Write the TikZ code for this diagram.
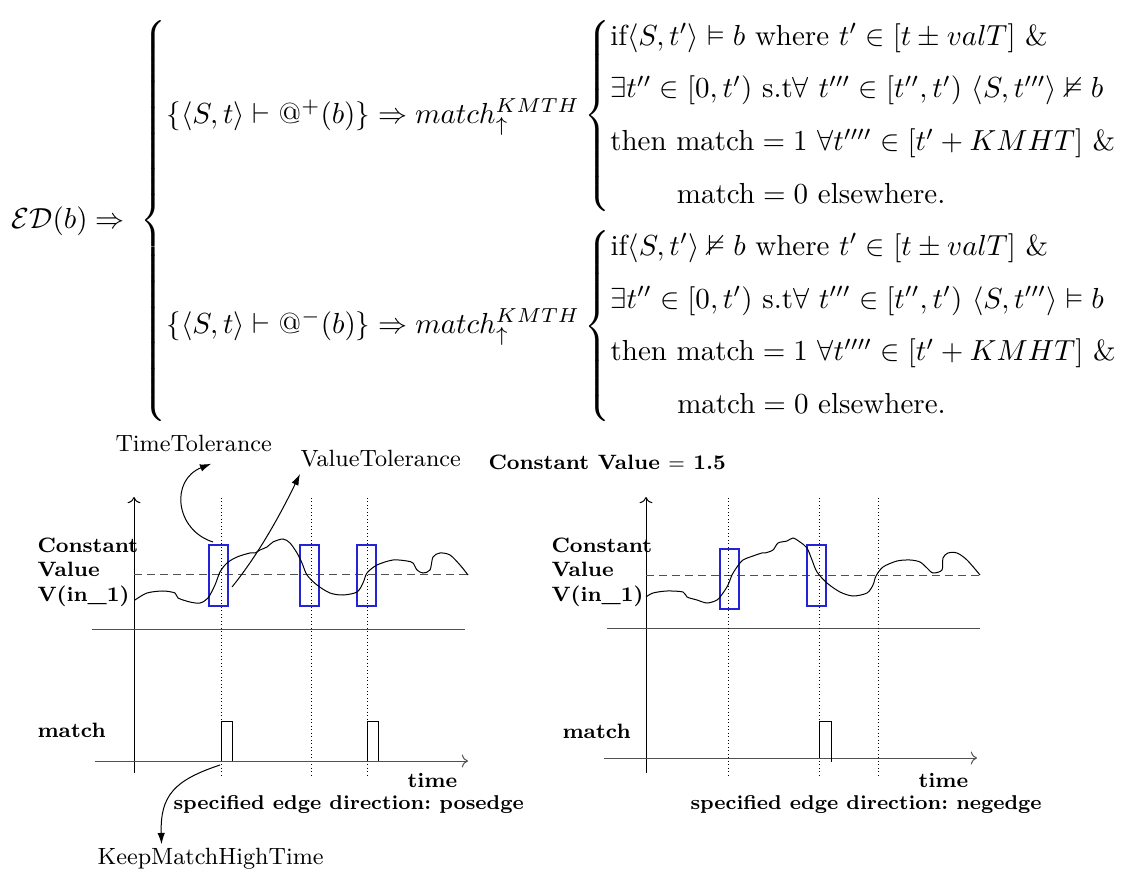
\documentclass[tikz,border=0pt]{standalone}
\usepackage{amsmath, amssymb}
\usepackage{tikz}
\usetikzlibrary{arrows.meta}

\definecolor{tolblue}{RGB}{35,35,215}
\definecolor{axisgray}{RGB}{80,80,80}

\begin{document}
\begin{tikzpicture}[x=0.4pt, y=-0.4pt,
  dlbl/.style={font=\fontsize{8.3}{9.8}\selectfont\bfseries\frenchspacing, inner sep=0pt},
  edgelbl/.style={dlbl, font=\fontsize{8}{9.8}\selectfont\bfseries\frenchspacing},
  annotlbl/.style={font=\fontsize{9.4}{11}\selectfont, inner sep=0pt},
  annot/.style={-{Latex[length=4.5pt,width=3pt]}},
  tolbox/.style={tolblue, semithick},
  guide/.style={densely dotted},
  thresh/.style={axisgray, dash pattern=on 3.2pt off 2pt},
  baseline/.style={axisgray}]
  \useasboundingbox (0,0) rectangle (1133,878);

  % rule for the edge detector
  \node[anchor=west, inner sep=0pt, scale=1.16, transform shape] (edrule) at (11,221) {%
    $\mathcal{ED}(b) \Rightarrow\;
    \begin{cases}
      \{\langle S,t\rangle \vdash @^{+}(b)\} \Rightarrow match^{KMTH}_{\uparrow}
      \begin{cases}
        \text{if}\langle S,t'\rangle \vDash b \text{ where } t' \in [t \pm valT]\ \&\\[3.8pt]
        \exists t'' \in [0,t')\ \text{s.t}\forall\ t''' \in [t'',t')\ \langle S,t'''\rangle \nvDash b\\[3.8pt]
        \text{then match} = 1\ \forall t'''' \in [t' + KMHT]\ \&\\[3.8pt]
        \hspace{23pt}\text{match} = 0 \text{ elsewhere.}
      \end{cases}\\ \noalign{\vskip 3.5pt}
      \{\langle S,t\rangle \vdash @^{-}(b)\} \Rightarrow match^{KMTH}_{\uparrow}
      \begin{cases}
        \text{if}\langle S,t'\rangle \nvDash b \text{ where } t' \in [t \pm valT]\ \&\\[3.8pt]
        \exists t'' \in [0,t')\ \text{s.t}\forall\ t''' \in [t'',t')\ \langle S,t'''\rangle \vDash b\\[3.8pt]
        \text{then match} = 1\ \forall t'''' \in [t' + KMHT]\ \&\\[3.8pt]
        \hspace{23pt}\text{match} = 0 \text{ elsewhere.}
      \end{cases}
    \end{cases}$};

  % labels
  \node[annotlbl, anchor=base west] (timetol) at (115,452) {TimeTolerance};
  \node[annotlbl, anchor=base west] (valtol) at (300,467) {ValueTolerance};
  \node[annotlbl, anchor=base west] (kmht) at (97,864) {KeepMatchHighTime};
  \node[dlbl, anchor=base west] (cval) at (488,470) {Constant Value $=$ 1.5};
  \node[dlbl, anchor=north west, align=left] (lsig) at (37,537) {Constant\\Value\\V(in\_1)};
  \node[dlbl, anchor=north west, align=left] (rsig) at (551,537) {Constant\\Value\\V(in\_1)};
  \node[dlbl, anchor=base west] (lmatch) at (37,737) {match};
  \node[dlbl, anchor=base west] (rmatch) at (562,738) {match};
  \node[dlbl, anchor=base west] (ltime) at (407,787) {time};
  \node[dlbl, anchor=base west] (rtime) at (918,787) {time};
  \node[edgelbl, anchor=base west] (ledge) at (173,809) {specified edge direction: posedge};
  \node[edgelbl, anchor=base west] (redge) at (690,809) {specified edge direction: negedge};

  % left plot: posedge
  \draw[->] (134,773) -- (134,497);
  \draw[baseline] (92,629) -- (465,629);
  \draw[thresh] (134,575) -- (468,575);
  \foreach \x in {221,311,367}
    \draw[guide] (\x,498) -- (\x,775);
  \foreach \x in {209,300,357}
    \draw[tolbox] (\x,545) rectangle +(19,61);
  \draw plot[smooth, tension=0.5] coordinates {(135,600) (147,593) (163,591) (175,593)
    (178,598) (190,602) (200,603) (208,598) (215,585) (220,572) (227,563) (237,557)
    (250,553) (255,553) (260,550) (267,547) (273,542) (283,539) (290,543) (297,553)
    (302,563) (307,575) (317,585) (330,593) (343,595) (357,592) (363,583) (367,573)
    (377,565) (393,560) (407,561) (413,563) (417,570) (423,573) (430,570) (433,557)
    (440,553) (450,555) (460,565) (468,575)};
  \draw[baseline, ->] (95,761) -- (468,761);
  \draw (221,761) -- (221,721) -- (232,721) -- (232,761);
  \draw (367,761) -- (367,721) -- (378,721) -- (378,761);

  % right plot: negedge
  \draw[->] (646,773) -- (646,497);
  \draw[baseline] (607,628) -- (980,628);
  \draw[thresh] (646,576) -- (980,576);
  \foreach \x in {728,819,878}
    \draw[guide] (\x,498) -- (\x,775);
  \draw[tolbox] (720,549) rectangle +(19,60);
  \draw[tolbox] (807,545) rectangle +(19,61);
  \draw plot[smooth, tension=0.5] coordinates {(646,597) (653,593) (667,591) (683,592)
    (687,597) (697,600) (707,603) (717,600) (723,593) (728,585) (732,575) (737,567)
    (743,560) (753,556) (762,553) (765,553) (773,550) (778,543) (787,541) (793,538)
    (800,542) (807,548) (812,560) (817,572) (827,583) (840,592) (853,596) (867,593)
    (873,585) (876,576) (883,567) (897,561) (910,560) (920,562) (927,568) (933,573)
    (942,570) (943,558) (948,553) (957,553) (967,560) (980,575)};
  \draw[baseline, ->] (604,758) -- (977,758);
  \draw (819,758) -- (819,721) -- (831,721) -- (831,762);

  % annotations
  \coordinate (ttfrom) at (213,542);
  \coordinate (vtfrom) at (232,587);
  \coordinate (kmfrom) at (220,765);
  \draw[annot] (ttfrom) .. controls (175,530) and (170,480) .. ([xshift=7pt,yshift=-4.4pt]timetol.south);
  \draw[annot] (vtfrom) .. controls (262,550) and (285,505) .. ([yshift=-2.4pt]valtol.south west);
  \draw[annot] (kmfrom) .. controls (175,780) and (160,795) .. ([xshift=-19.6pt,yshift=1.2pt]kmht.north);
\end{tikzpicture}
\end{document}
